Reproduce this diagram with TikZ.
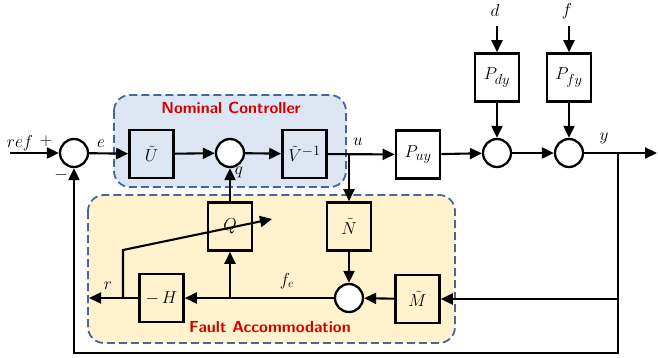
\documentclass[tikz,border=0pt]{standalone}
\usepackage{amsmath}
\usetikzlibrary{arrows.meta}
\definecolor{ncfill}{RGB}{220,230,242}
\definecolor{fafill}{RGB}{255,242,204}
\definecolor{grpline}{RGB}{65,105,160}
\definecolor{ttlred}{RGB}{210,0,0}
\begin{document}
\begin{tikzpicture}[x=1pt,y=-1pt,
    >={Triangle[length=12pt,width=11pt]},
    every path/.style={line width=2.1pt},
    blk/.style={rectangle, draw, line width=2.6pt,
        minimum width=44pt, minimum height=48pt, inner sep=0pt,
        font=\fontsize{19}{21}\selectfont},
    sum/.style={circle, draw, line width=2.3pt, fill=white,
        minimum size=28pt, inner sep=0pt},
    grp/.style={draw=grpline, dash pattern=on 8pt off 4pt,
        line width=1.8pt, rounded corners=16pt},
    ttl/.style={text=ttlred, font=\fontsize{16}{18}\selectfont\sffamily\bfseries},
    lbl/.style={font=\fontsize{18}{20}\selectfont}]
    \useasboundingbox (0,0) rectangle (658,358);

    % groups
    \draw[grp, fill=ncfill] (114,95) rectangle (346,187);
    \draw[grp, fill=fafill] (88,195) rectangle (455,343);
    \node[ttl] (nctitle) at (231,108) {Nominal Controller};
    \node[ttl] (fatitle) at (270,327) {Fault Accommodation};

    % blocks
    \node[sum] (s1) at (74,153) {};
    \node[blk] (U) at (151.5,154) {$\tilde{U}$};
    \node[sum] (s2) at (230,153) {};
    \node[blk] (V) at (304.5,154) {$\tilde{V}^{-1}$};
    \node[blk] (Puy) at (418,154.5) {$P_{uy}$};
    \node[sum] (s3) at (497,153) {};
    \node[blk] (Pdy) at (497,77.5) {$P_{dy}$};
    \node[sum] (s4) at (569,153) {};
    \node[blk] (Pfy) at (569,77.5) {$P_{fy}$};
    \node[blk] (Q) at (230,226.5) {$Q$};
    \node[blk] (N) at (349,226.5) {$\tilde{N}$};
    \node[sum] (s5) at (349,298) {};
    \node[blk] (M) at (417.5,299) {$\tilde{M}$};
    \node[blk] (H) at (161.5,298) {$-\,H$};

    % points
    \coordinate (ref) at (10,153);
    \coordinate (out) at (657,153);
    \coordinate (ub) at (349,153);
    \coordinate (yb) at (618,153);
    \coordinate (loop) at (74,353);
    \coordinate (dIn) at (497,26);
    \coordinate (fIn) at (569,26);
    \coordinate (fe) at (230,298);
    \coordinate (rEnd) at (89,298);
    \coordinate (rb) at (123,298);
    \coordinate (rk) at (123,250);
    \coordinate (adj) at (272,219);

    % forward path
    \draw [->] (ref) -- (s1);
    \draw [->] (s1) -- (U);
    \draw [->] (U) -- (s2);
    \draw [->] (s2) -- (V);
    \draw [->] (V) -- (Puy);
    \draw [->] (Puy) -- (s3);
    \draw [->] (s3) -- (s4);
    \draw [->] (s4) -- (out);
    \draw [->] (dIn) -- (Pdy);
    \draw [->] (Pdy) -- (s3);
    \draw [->] (fIn) -- (Pfy);
    \draw [->] (Pfy) -- (s4);

    % feedback
    \draw [->] (yb) |- (M);
    \draw [->] (yb) |- (loop) -- (s1);
    \draw [->] (ub) -- (N);
    \draw [->] (N) -- (s5);
    \draw [->] (M) -- (s5);
    \draw [->] (s5) -- (H);
    \draw [->] (fe) -- (Q);
    \draw [->] (Q) -- (s2);
    \draw [->] (H) -- (rEnd);
    \draw [->] (rb) -- (rk) -- (adj);

    % labels
    \node[lbl] (lref) at (20,143) {$ref$};
    \node[lbl] (lplus) at (46,141) {$+$};
    \node[lbl] (lminus) at (61,175) {$-$};
    \node[lbl] (le) at (101,144) {$e$};
    \node[lbl] (lq) at (239,172) {$q$};
    \node[lbl] (lu) at (358,142) {$u$};
    \node[lbl] (ly) at (604,138) {$y$};
    \node[lbl] (ld) at (495,11) {$d$};
    \node[lbl] (lf) at (567,11) {$f$};
    \node[lbl] (lfe) at (287,281) {$f_e$};
    \node[lbl] (lr) at (108,286) {$r$};
\end{tikzpicture}
\end{document}
